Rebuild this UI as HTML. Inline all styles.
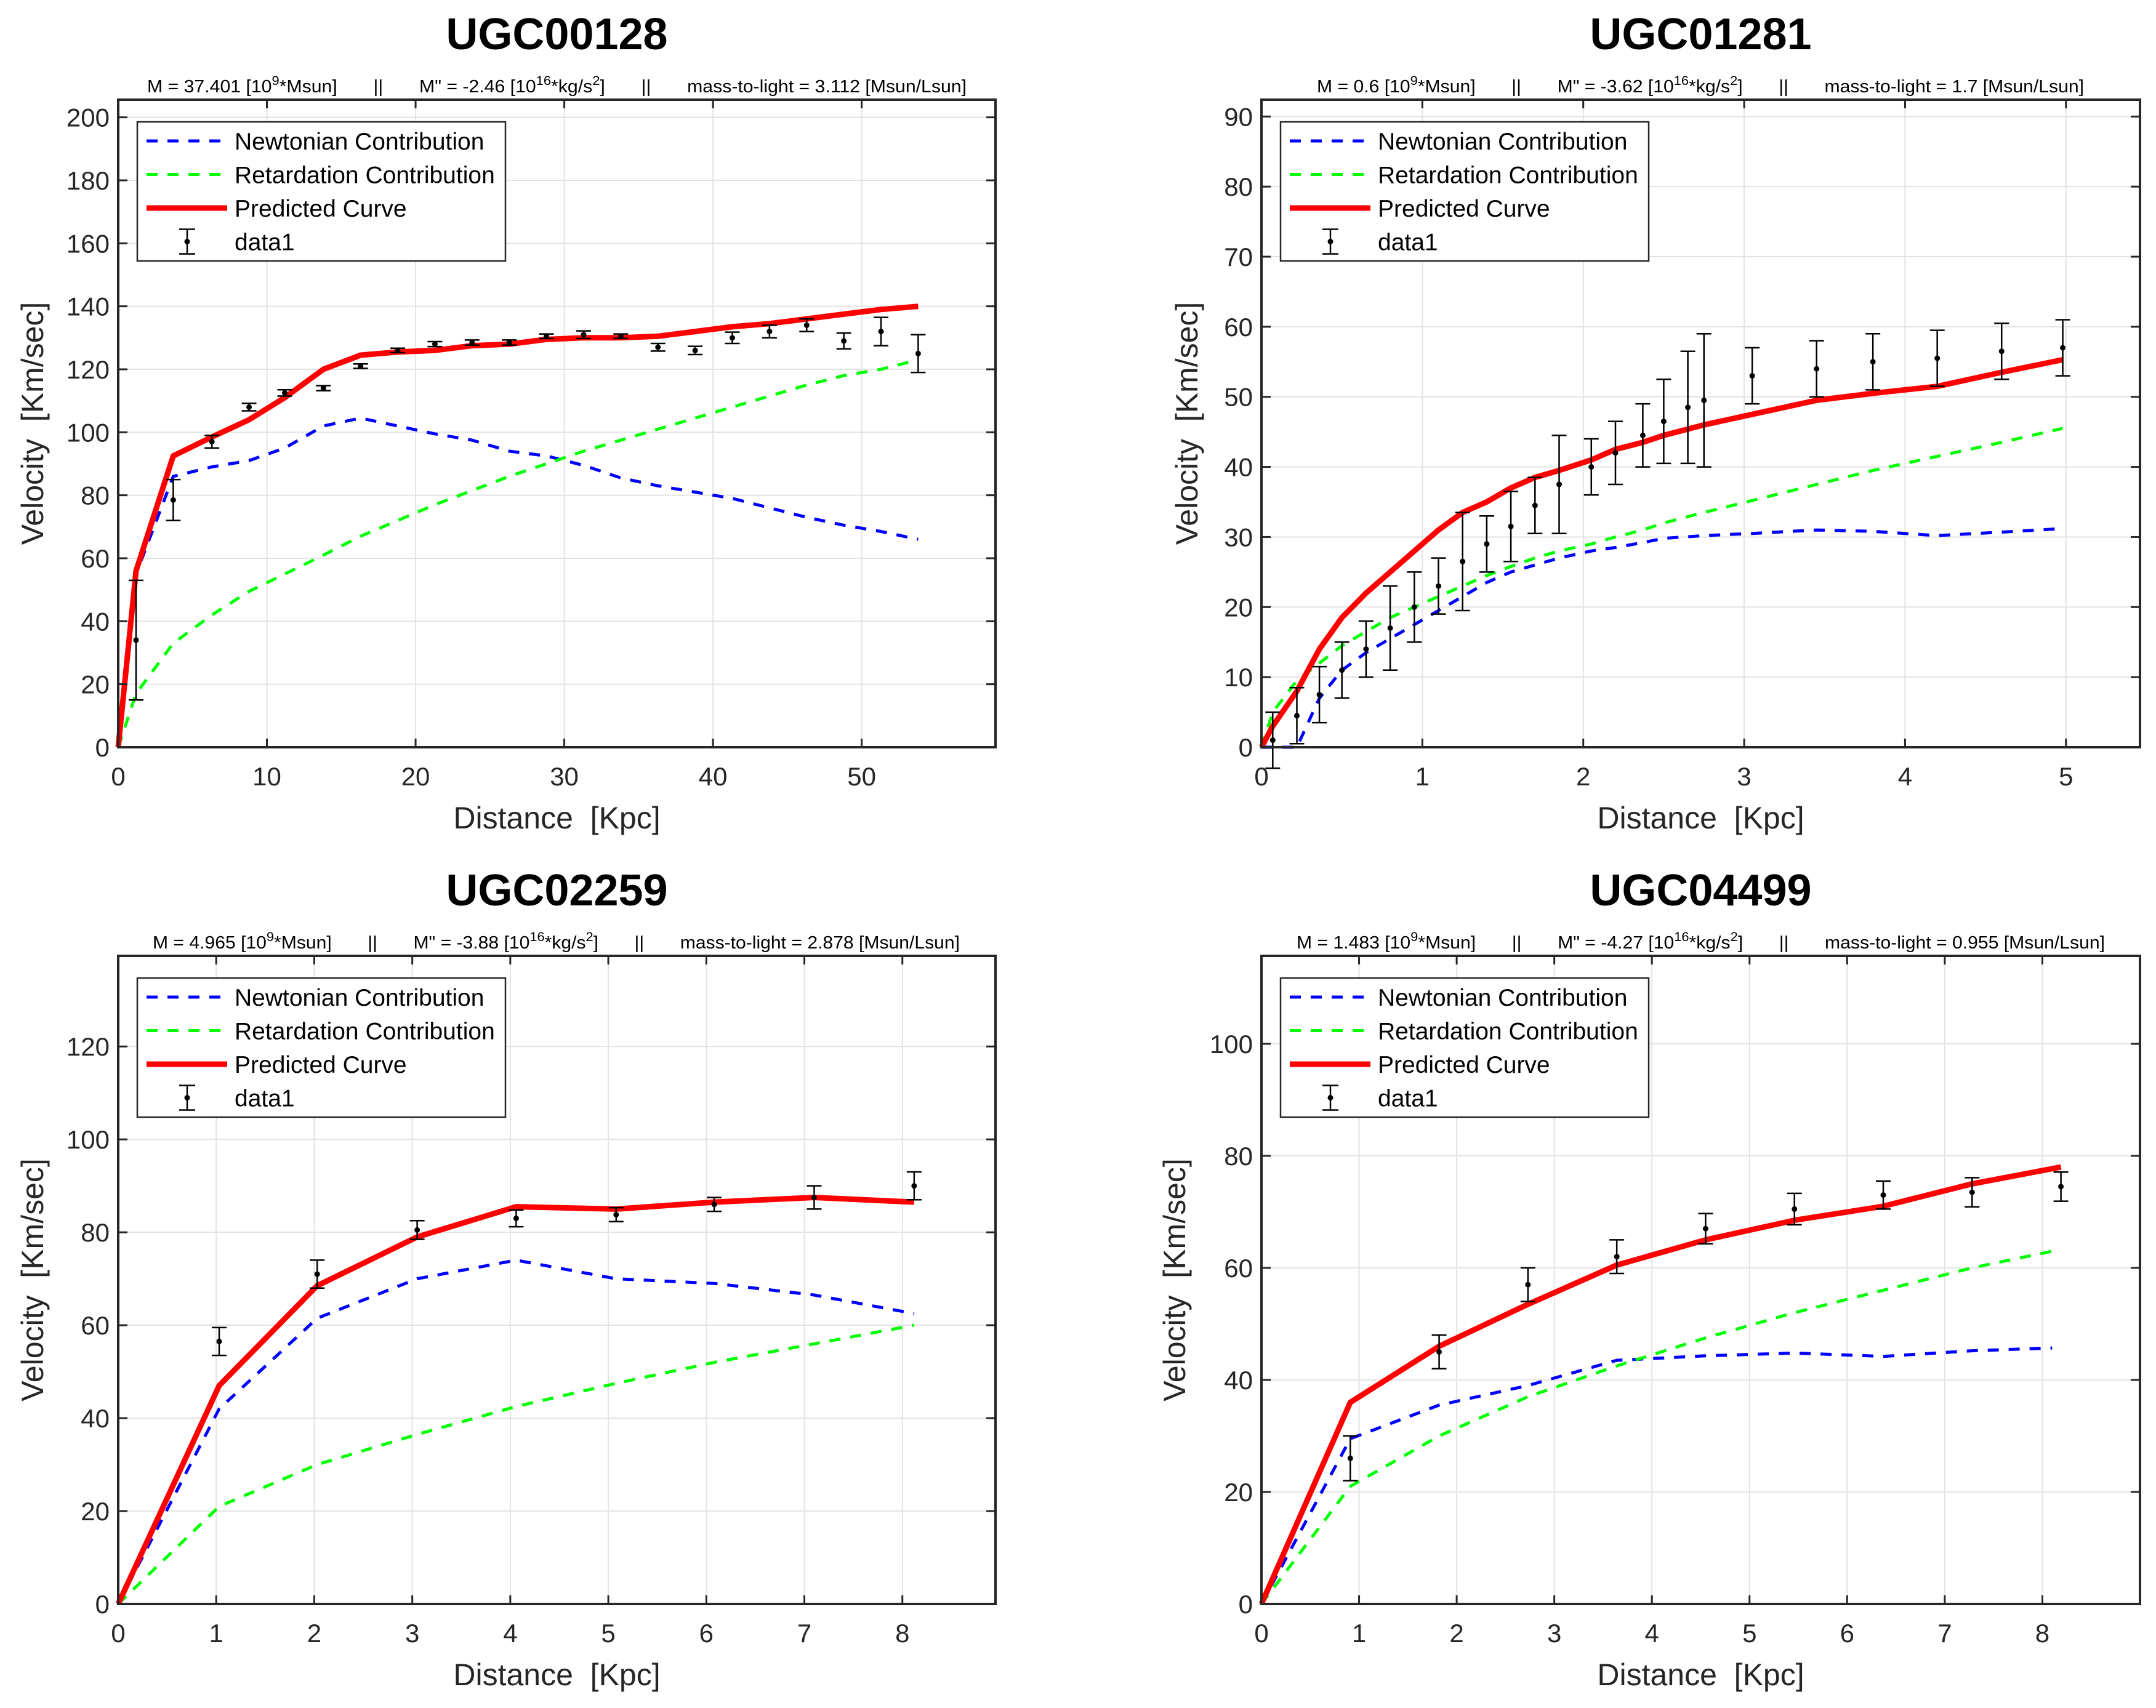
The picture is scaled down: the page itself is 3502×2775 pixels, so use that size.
<!DOCTYPE html>
<html><head><meta charset="utf-8">
<style>
html,body{margin:0;padding:0;background:#fff;}
svg{display:block;font-family:"Liberation Sans",Arial,sans-serif;}
svg text{white-space:pre;}
</style></head>
<body>
<svg id="fig" width="3502" height="2775" viewBox="0 0 3502 2775" xmlns="http://www.w3.org/2000/svg"></svg>
<script>
// ---------- UGC00128 ----------
const p1X = [0,1.2,3.7,6.3,8.8,11.2,13.8,16.3,18.8,21.3,23.8,26.3,28.8,31.3,33.8,36.3,38.8,41.3,43.8,46.3,48.8,51.3,53.8];
const p1Newton = [0,55,86,89,91,95,102,104.5,102,99.5,97.5,94,92.5,89.5,85.5,83,81,79,76,73,70.5,68.5,66];
const p1Retard = [0,17,33,42,49.5,55,61,67,72,77,81.5,86,90,94,97.5,101,104.5,108,111.5,115,118,120,123];
const p1Pred = [0,56,92.5,98.5,104,111,120,124.5,125.5,126,127.5,128,129.5,130,130,130.5,132,133.5,134.5,136,137.5,139,140];
const p1DataX = [1.2,3.7,6.3,8.8,11.2,13.8,16.3,18.8,21.3,23.8,26.3,28.8,31.3,33.8,36.3,38.8,41.3,43.8,46.3,48.8,51.3,53.8];
const p1DataV = [34,78.5,97,108,112.5,114,121,126,128,128.5,128.5,130.5,131,130.5,127,126,130,132,134,129,132,125];
const p1DataE = [19,6.5,2,1.2,1,0.8,0.7,0.7,0.8,0.8,0.8,0.7,1.2,0.7,1.2,1.3,1.8,2,2,2.5,4.5,6];
const p1XTicks = [0,10,20,30,40,50];
const p1YTicks = [0,20,40,60,80,100,120,140,160,180,200];

// ---------- UGC01281 ----------
const p2X = [0,0.07,0.22,0.36,0.5,0.65,0.8,0.95,1.1,1.25,1.4,1.55,1.7,1.85,2.05,2.2,2.37,2.5,2.75,3.05,3.45,3.8,4.2,4.6,4.98];
const p2Newton = [0,0,0,7,11,13.5,15.5,17.5,19.5,21.5,23.5,25,26,27,28,28.5,29.2,29.8,30.2,30.5,31,30.8,30.2,30.7,31.2];
const p2Retard = [0,5,9.5,12,14.5,16.5,18.5,20,21.5,23,24.5,25.8,27,28,29,30,31,32,33.5,35.2,37.5,39.5,41.5,43.5,45.5];
const p2Pred = [0,3,8,14,18.5,22,25,28,31,33.5,35,37,38.5,39.5,41,42.5,43.5,44.5,46,47.5,49.5,50.5,51.5,53.5,55.3];
const p2DataX = [0.07,0.22,0.36,0.5,0.65,0.8,0.95,1.1,1.25,1.4,1.55,1.7,1.85,2.05,2.2,2.37,2.5,2.65,2.75,3.05,3.45,3.8,4.2,4.6,4.98];
const p2DataV = [1,4.5,7.5,11,14,17,20,23,26.5,29,31.5,34.5,37.5,40,42,44.5,46.5,48.5,49.5,53,54,55,55.5,56.5,57];
const p2DataE = [4,4,4,4,4,6,5,4,7,4,5,4,7,4,4.5,4.5,6,8,9.5,4,4,4,4,4,4];
const p2XTicks = [0,1,2,3,4,5];
const p2YTicks = [0,10,20,30,40,50,60,70,80,90];

// ---------- UGC02259 ----------
const p3X = [0,1.03,2.03,3.05,4.06,5.08,6.08,7.1,8.12];
const p3Newton = [0,42,61.5,70,74,70,69,66.5,62.5];
const p3Retard = [0,21,30,36.5,42.5,47.5,52,56,60];
const p3Pred = [0,47,68.5,79,85.5,85,86.5,87.5,86.5];
const p3DataX = [1.03,2.03,3.05,4.06,5.08,6.08,7.1,8.12];
const p3DataV = [56.5,71,80.5,83,83.8,86,87.5,90];
const p3DataE = [3,3,2,1.8,1.5,1.5,2.5,3];
const p3XTicks = [0,1,2,3,4,5,6,7,8];
const p3YTicks = [0,20,40,60,80,100,120];

// ---------- UGC04499 ----------
const p4X = [0,0.91,1.82,2.73,3.64,4.55,5.46,6.37,7.28,8.19];
const p4NewtonX = [0,0.91,1.82,2.73,3.64,4.55,5.46,6.37,7.28,8.1];
const p4Newton = [0,29.5,35.5,39,43.5,44.3,44.8,44.2,45.2,45.7];
const p4Retard = [0,21,30,37,42.5,47.5,52,56,60,63.3];
const p4Pred = [0,36,46,53.5,60.5,65,68.5,71,75,78];
const p4DataX = [0.91,1.82,2.73,3.64,4.55,5.46,6.37,7.28,8.19];
const p4DataV = [26,45,57,62,67,70.5,73,73.5,74.5];
const p4DataE = [4,3,3,3,2.7,2.8,2.5,2.6,2.6];
const p4XTicks = [0,1,2,3,4,5,6,7,8];
const p4YTicks = [0,20,40,60,80,100];

const NS = "http://www.w3.org/2000/svg";
const fig = document.getElementById('fig');
function mk(tag, attrs, parent){
  const e = document.createElementNS(NS, tag);
  for (const k in attrs) e.setAttribute(k, attrs[k]);
  (parent||fig).appendChild(e);
  return e;
}

function drawPlot(cfg){
  const g = mk('g', {});
  
  
  const L=cfg.left, R=cfg.right, T=cfg.top, B=cfg.bottom;
  const sx = v => L + v / cfg.xmax * (R - L);
  const sy = v => B - v / cfg.ymax * (B - T);

  cfg.xTicks.forEach(t => {
    const l = mk('line', {x1:sx(t), x2:sx(t), y1:T, y2:B, stroke:'#e3e3e3', 'stroke-width':2}, g);
    
    
  });
  cfg.yTicks.forEach(t => {
    const l = mk('line', {x1:L, x2:R, y1:sy(t), y2:sy(t), stroke:'#e3e3e3', 'stroke-width':2}, g);
    
    
  });

  function curve(xs, ys, color, w, dash, nm){
    const pts = xs.map((x,i)=> sx(x).toFixed(1)+','+sy(ys[i]).toFixed(1)).join(' ');
    const a = {points:pts, fill:'none', stroke:color, 'stroke-width':w, 'stroke-linejoin':'round'};
    if (dash) a['stroke-dasharray'] = dash;
    const p = mk('polyline', a, g);
    
    
  }
  curve(cfg.nx || cfg.x, cfg.newton, '#0000ff', 5, '18 16', 'newtonian-curve');
  curve(cfg.x, cfg.retard, '#00ff00', 5, '18 16', 'retardation-curve');
  curve(cfg.x, cfg.pred, '#ff0000', 9, null, 'predicted-curve');

  cfg.dx.forEach((x,i)=>{
    const cx = sx(x), v = cfg.dv[i], e = cfg.de[i];
    const eg = mk('g', {stroke:'#000', 'stroke-width':2.5}, g);
    
    
    mk('line', {x1:cx, x2:cx, y1:sy(v-e), y2:sy(v+e)}, eg);
    mk('line', {x1:cx-12, x2:cx+12, y1:sy(v-e), y2:sy(v-e)}, eg);
    mk('line', {x1:cx-12, x2:cx+12, y1:sy(v+e), y2:sy(v+e)}, eg);
    mk('circle', {cx:cx, cy:sy(v), r:4.5, fill:'#000', stroke:'none'}, eg);
  });

  const box = mk('rect', {x:L, y:T, width:R-L, height:B-T, fill:'none', stroke:'#262626', 'stroke-width':4}, g);
  
  

  cfg.xTicks.forEach(t=>{
    const x = sx(t);
    mk('line', {x1:x, x2:x, y1:B, y2:B-14, stroke:'#262626', 'stroke-width':3}, g);
    mk('line', {x1:x, x2:x, y1:T, y2:T+14, stroke:'#262626', 'stroke-width':3}, g);
    const tx = mk('text', {x:x, y:B+62, 'font-size':42, fill:'#262626', 'text-anchor':'middle'}, g);
    tx.textContent = t;
    
    
  });
  cfg.yTicks.forEach(t=>{
    const y = sy(t);
    mk('line', {x1:L, x2:L+15, y1:y, y2:y, stroke:'#262626', 'stroke-width':3}, g);
    mk('line', {x1:R, x2:R-15, y1:y, y2:y, stroke:'#262626', 'stroke-width':3}, g);
    const tx = mk('text', {x:L-14, y:y+15, 'font-size':42, fill:'#262626', 'text-anchor':'end'}, g);
    tx.textContent = t;
    
    
  });

  const xl = mk('text', {x:(L+R)/2, y:B+132, 'font-size':50, fill:'#262626', 'text-anchor':'middle'}, g);
  xl.textContent = 'Distance  [Kpc]';
  
  
  const yx = cfg.ylabX, yy = (T+B)/2;
  const yl = mk('text', {x:yx, y:yy, 'font-size':50, fill:'#262626', 'text-anchor':'middle', transform:`rotate(-90 ${yx} ${yy})`}, g);
  yl.textContent = 'Velocity  [Km/sec]';
  
  

  const tt = mk('text', {x:(L+R)/2, y:T-82, 'font-size':72, 'font-weight':'bold', fill:'#000', 'text-anchor':'middle'}, g);
  tt.textContent = cfg.title;
  
  

  const st = mk('text', {x:cfg.subL, y:T-12, 'font-size':29, fill:'#000', textLength:cfg.subR-cfg.subL, lengthAdjust:'spacingAndGlyphs'}, g);
  
  
  const parts = [
    ['M = '+cfg.m+' [10',0],['9',1],['*Msun]       ||       M" = '+cfg.mpp+' [10',-1],['16',1],['*kg/s',-1],['2',1],[']       ||       mass-to-light = '+cfg.ml+' [Msun/Lsun]',-1]
  ];
  parts.forEach(p=>{
    const ts = mk('tspan', {}, st);
    if (p[1]===1){ ts.setAttribute('dy', -12); ts.setAttribute('font-size', 21); }
    else if (p[1]===-1){ ts.setAttribute('dy', 12); }
    ts.textContent = p[0];
  });

  const lg = mk('g', {}, g);
  
  
  const lx = L+31, ly = T+36;
  mk('rect', {x:lx, y:ly, width:598, height:226, fill:'#fff', stroke:'#262626', 'stroke-width':2.5}, lg);
  const rows = [
    ['Newtonian Contribution','#0000ff',5,'18 16','legend-entry-newtonian'],
    ['Retardation Contribution','#00ff00',5,'18 16','legend-entry-retardation'],
    ['Predicted Curve','#ff0000',9,null,'legend-entry-predicted'],
    ['data1',null,0,null,'legend-entry-data1']
  ];
  rows.forEach((r,i)=>{
    const ry = ly + 31 + i*54.5;
    const eg = mk('g', {}, lg);
    
    
    if (r[1]){
      const a = {x1:lx+15, x2: r[3]? lx+135 : lx+146, y1:ry, y2:ry, stroke:r[1], 'stroke-width':r[2]};
      if (r[3]) a['stroke-dasharray']=r[3];
      mk('line', a, eg);
    } else {
      const cx = lx+81;
      mk('line', {x1:cx, x2:cx, y1:ry-20, y2:ry+20, stroke:'#000','stroke-width':2.5}, eg);
      mk('line', {x1:cx-13, x2:cx+13, y1:ry-20, y2:ry-20, stroke:'#000','stroke-width':2.5}, eg);
      mk('line', {x1:cx-13, x2:cx+13, y1:ry+20, y2:ry+20, stroke:'#000','stroke-width':2.5}, eg);
      mk('circle', {cx:cx, cy:ry, r:4.5, fill:'#000'}, eg);
    }
    const t = mk('text', {x:lx+158, y:ry+14, 'font-size':39, fill:'#000'}, eg);
    t.textContent = r[0];
  });
}

drawPlot({name:'ugc00128', title:'UGC00128', left:192, right:1617, top:162, bottom:1214, xmax:59, ymax:205.6,
  x:p1X, newton:p1Newton, retard:p1Retard, pred:p1Pred, dx:p1DataX, dv:p1DataV, de:p1DataE,
  xTicks:p1XTicks, yTicks:p1YTicks, ylabX:70, subL:239, subR:1570, m:'37.401', mpp:'-2.46', ml:'3.112'});
drawPlot({name:'ugc01281', title:'UGC01281', left:2049, right:3476, top:162, bottom:1214, xmax:5.46, ymax:92.4,
  x:p2X, newton:p2Newton, retard:p2Retard, pred:p2Pred, dx:p2DataX, dv:p2DataV, de:p2DataE,
  xTicks:p2XTicks, yTicks:p2YTicks, ylabX:1945, subL:2139, subR:3385, m:'0.6', mpp:'-3.62', ml:'1.7'});
drawPlot({name:'ugc02259', title:'UGC02259', left:192, right:1617, top:1553, bottom:2606, xmax:8.95, ymax:139.5,
  x:p3X, newton:p3Newton, retard:p3Retard, pred:p3Pred, dx:p3DataX, dv:p3DataV, de:p3DataE,
  xTicks:p3XTicks, yTicks:p3YTicks, ylabX:70, subL:248, subR:1559, m:'4.965', mpp:'-3.88', ml:'2.878'});
drawPlot({name:'ugc04499', title:'UGC04499', left:2049, right:3476, top:1553, bottom:2606, xmax:9, ymax:115.7,
  x:p4X, nx:p4NewtonX, newton:p4Newton, retard:p4Retard, pred:p4Pred, dx:p4DataX, dv:p4DataV, de:p4DataE,
  xTicks:p4XTicks, yTicks:p4YTicks, ylabX:1925, subL:2106, subR:3419, m:'1.483', mpp:'-4.27', ml:'0.955'});
</script>
</body></html>
